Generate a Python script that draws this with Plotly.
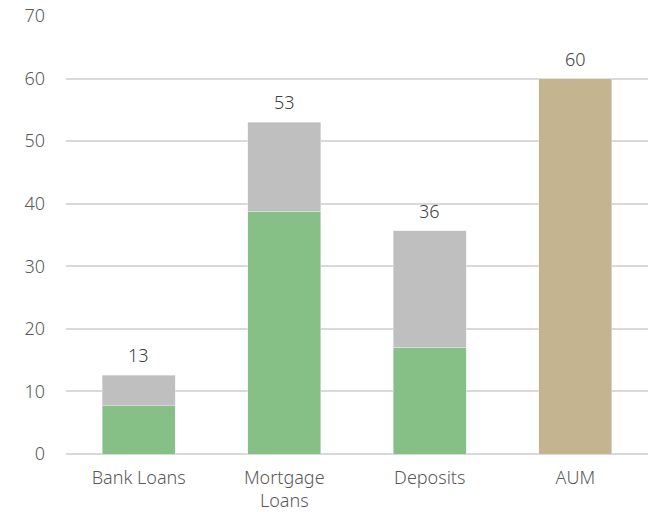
import plotly.graph_objects as go

categories = ["Bank Loans", "Mortgage<br>Loans", "Deposits", "AUM"]
green_part = [7.7, 38.8, 17.1, None]
grey_part = [4.9, 14.2, 18.6, None]
aum_part = [None, None, None, 60.0]

totals = [sum(v for v in vals if v is not None)
          for vals in zip(green_part, grey_part, aum_part)]

GREEN = "#86c087"
GREY = "#bfbfbf"
TAN = "#c4b590"
TEXT = "#595959"
FONT = "Noto Sans"

fig = go.Figure()
fig.add_trace(go.Bar(x=categories, y=green_part, marker_color=GREEN, hoverinfo="skip"))
fig.add_trace(go.Bar(x=categories, y=grey_part, marker_color=GREY, hoverinfo="skip"))
fig.add_trace(go.Bar(x=categories, y=aum_part, marker_color=TAN, hoverinfo="skip"))

for cat, tot in zip(categories, totals):
    fig.add_annotation(x=cat, y=tot, text=f"{tot:.0f}", showarrow=False,
                       yanchor="bottom", yshift=6,
                       font=dict(family=FONT, size=18, color="#404040", weight=300))

fig.update_layout(
    width=655, height=512,
    barmode="stack", bargap=0.5,
    showlegend=False,
    plot_bgcolor="white", paper_bgcolor="white",
    margin=dict(l=66, r=7, t=16, b=58, autoexpand=False),
    font=dict(family=FONT, size=18, color=TEXT, weight=300),
)
fig.update_yaxes(range=[0, 70], dtick=10, showgrid=True, gridcolor="#d9d9d9",
                 gridwidth=1.5, zeroline=True, zerolinecolor="#d9d9d9",
                 zerolinewidth=1.5, showline=False, ticks="", ticklabelstandoff=20,
                 automargin=False,
                 tickfont=dict(family=FONT, size=18, color=TEXT, weight=300))
fig.update_xaxes(showline=False, ticks="", showgrid=False, automargin=False,
                 ticklabelstandoff=11,
                 tickfont=dict(family=FONT, size=18, color=TEXT, weight=300))

fig.write_html("out.html")
